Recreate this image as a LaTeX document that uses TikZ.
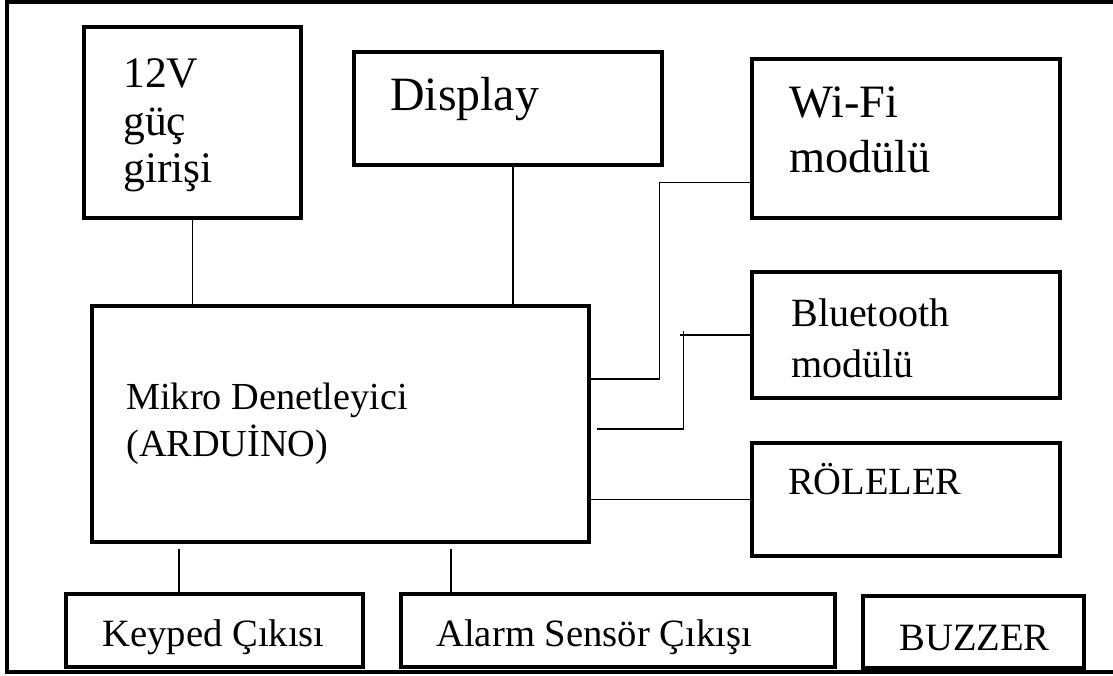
\documentclass[tikz,border=0pt]{standalone}
\usepackage{fontspec}
\setmainfont{Liberation Serif}
\begin{document}
\begin{tikzpicture}[x=0.025cm, y=-0.025cm,
    kutu/.style={draw, line width=2.4pt, inner sep=0pt},
    yazi/.style={anchor=base west, align=left, inner sep=0pt},
    hat/.style={line width=0.9pt},
    cerceve/.style={line width=2.6pt}]
    \useasboundingbox (0,0) rectangle (1113,676);
    \draw[cerceve] (1113,2) -- (7,2) -- (7,672) -- (1113,672);

    \node[kutu, minimum width=5.425cm, minimum height=4.775cm] (guc) at (192.5,122.5) {};
    \node[kutu, minimum width=7.7cm, minimum height=2.825cm] (disp) at (508,108.5) {};
    \node[kutu, minimum width=7.7cm, minimum height=3.975cm] (wifi) at (906,138.5) {};
    \node[kutu, minimum width=7.7cm, minimum height=3.15cm] (bt) at (906,335) {};
    \node[kutu, minimum width=7.7cm, minimum height=2.825cm] (role) at (906,499.5) {};
    \node[kutu, minimum width=12.425cm, minimum height=5.9cm] (mcu) at (340.5,424) {};
    \node[kutu, minimum width=7.425cm, minimum height=1.825cm] (keyp) at (214.5,630.5) {};
    \node[kutu, minimum width=10.85cm, minimum height=1.825cm] (alarm) at (618,630.5) {};
    \node[kutu, minimum width=5.525cm, minimum height=1.8cm] (buzz) at (973.5,632) {};

    \node[yazi, font=\fontsize{31}{34}\selectfont] (guc-t) at (123,183) {12V\\güç\\girişi};
    \node[yazi, font=\fontsize{34}{38}\selectfont] (disp-t) at (390,111) {Display};
    \node[yazi, font=\fontsize{33}{39.8}\selectfont] (wifi-t) at (789,173) {Wi-Fi\\modülü};
    \node[yazi, font=\fontsize{28.5}{35.6}\selectfont] (bt-t) at (791,377) {Bluetooth\\modülü};
    \node[yazi, font=\fontsize{27.4}{33}\selectfont] (role-t) at (788,494) {RÖLELER};
    \node[yazi, font=\fontsize{27.2}{33.4}\selectfont] (mcu-t) at (126,456) {Mikro Denetleyici\\(ARDUİNO)};
    \node[yazi, font=\fontsize{27.5}{30}\selectfont] (keyp-t) at (102,646) {Keyped Çıkısı};
    \node[yazi, font=\fontsize{27.5}{30}\selectfont] (alarm-t) at (436,646) {Alarm Sensör Çıkışı};
    \node[yazi, font=\fontsize{27.5}{30}\selectfont] (buzz-t) at (899,650) {BUZZER};

    \draw[hat] (guc.south) -- (guc.south |- mcu.north);
    \draw[hat] ([xshift=0.125cm]disp.south) -- ([xshift=0.125cm]disp.south |- mcu.north);
    \draw[hat] ([yshift=1.125cm]mcu.east) -- ++(69,0) |- ([yshift=-1.1cm]wifi.west);
    \draw[hat] ([xshift=0.15cm, yshift=-0.125cm]mcu.east) -- ++(87,0) -- ++(0,-98);
    \draw[hat] (bt.west) -- ++(-70,0);
    \draw[hat] (role.west) -- (role.west -| mcu.east);
    \draw[hat] ([xshift=-0.8875cm]keyp.north) -- ([xshift=-0.8875cm, yshift=-0.125cm]keyp.north |- mcu.south);
    \draw[hat] ([xshift=-4.175cm]alarm.north) -- ([xshift=-4.175cm, yshift=-0.125cm]alarm.north |- mcu.south);
\end{tikzpicture}
\end{document}
